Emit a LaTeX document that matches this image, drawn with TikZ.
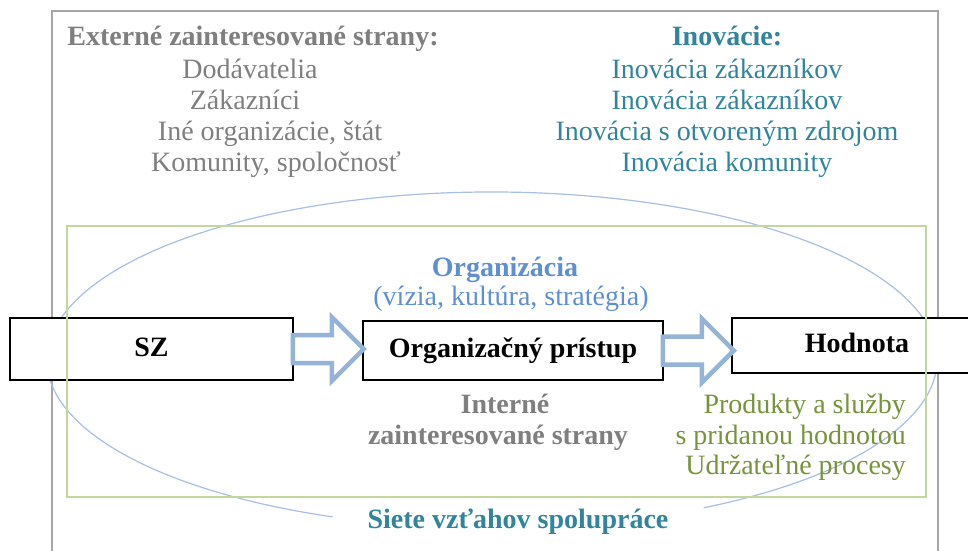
\documentclass[tikz,border=0pt]{standalone}
\usepackage{fontspec}
\setmainfont{Liberation Serif}

\definecolor{stakegrey}{HTML}{7F7F7F}
\definecolor{framegrey}{HTML}{A6A6A6}
\definecolor{innoteal}{HTML}{31849B}
\definecolor{orgblue}{HTML}{5F8FD3}
\definecolor{valgreen}{HTML}{77933C}
\definecolor{areagreen}{HTML}{C3D69B}
\definecolor{netblue}{HTML}{A7BFE0}
\definecolor{flowblue}{HTML}{95B3D7}

\begin{document}
\begin{tikzpicture}[x=1pt, y=-1pt,
  txt/.style={anchor=base, inner sep=0pt, font=\fontsize{28}{31}\selectfont},
  ext/.style={txt, text=stakegrey},
  inno/.style={txt, text=innoteal},
  val/.style={txt, anchor=base east, text=valgreen},
  box/.style={draw=black, line width=1.6pt, fill=white, inner sep=0pt,
    text height=20pt, text depth=6pt, font=\fontsize{28}{31}\selectfont\bfseries},
  flow/.style={draw=flowblue, line width=4.5pt, fill=white, line join=miter}]

\clip (0,0) rectangle (968,550);

% frame
\draw [framegrey, line width=1.8pt] (52,560) |- (938,11) -- (938,560);

% network of cooperation
\coordinate (net) at (492,360);
\draw [netblue, line width=1.2pt] (net) ++(61.6:445 and 168)
  arc[start angle=61.6, end angle=-249, x radius=445, y radius=168];

% external stakeholders
\node [ext] (exthead) at (253,45) {\textbf{Externé zainteresované strany:}};
\node [ext] (supp) at (250,78) {Dodávatelia};
\node [ext] (cust) at (245,109) {Zákazníci};
\node [ext] (others) at (270,140) {Iné organizácie, štát};
\node [ext] (comm) at (276,171) {Komunity, spoločnosť};

% innovations
\node [inno] (innohead) at (727,45) {\textbf{Inovácie:}};
\node [inno] (inno1) at (727,78) {Inovácia zákazníkov};
\node [inno] (inno2) at (727,109) {Inovácia zákazníkov};
\node [inno] (inno3) at (727,140) {Inovácia s otvoreným zdrojom};
\node [inno] (inno4) at (727,171) {Inovácia komunity};

% organisation
\node [txt, text=orgblue] (orghead) at (505,276) {\textbf{Organizácia}};
\node [txt, text=orgblue] (orgsub) at (511,305) {(vízia, kultúra, stratégia)};

\node [box, minimum width=283pt, minimum height=62pt] (sz) at (151.5,349) {SZ};
\node [box, minimum width=300pt, minimum height=59pt] (org) at (513,350.5) {Organizačný prístup};
\node [box, minimum width=250pt, minimum height=55pt] (value) at (857,345.5) {Hodnota};

% organisation area (on top of the boxes)
\draw [areagreen, line width=1.3pt] (67,226) rectangle (926,497);

\draw [flow, shift={(sz.east)}] (-1,-14) -- (38,-14) -- (38,-32) -- (70,0)
  -- (38,32) -- (38,14) -- (-1,14) -- cycle;
\draw [flow, shift={(org.east)}] (-1,-14) -- (38,-14) -- (38,-32) -- (70,0)
  -- (38,32) -- (38,14) -- (-1,14) -- cycle;

\node [ext] (int1) at (505,413) {\textbf{Interné}};
\node [ext] (int2) at (498,444) {\textbf{zainteresované strany}};

\node [val] (val1) at (906,413) {Produkty a služby};
\node [val] (val2) at (906,444) {s pridanou hodnotou};
\node [val] (val3) at (906,474) {Udržateľné procesy};

\node [inno] (nethead) at (518,528) {\textbf{Siete vzťahov spolupráce}};

\end{tikzpicture}
\end{document}
